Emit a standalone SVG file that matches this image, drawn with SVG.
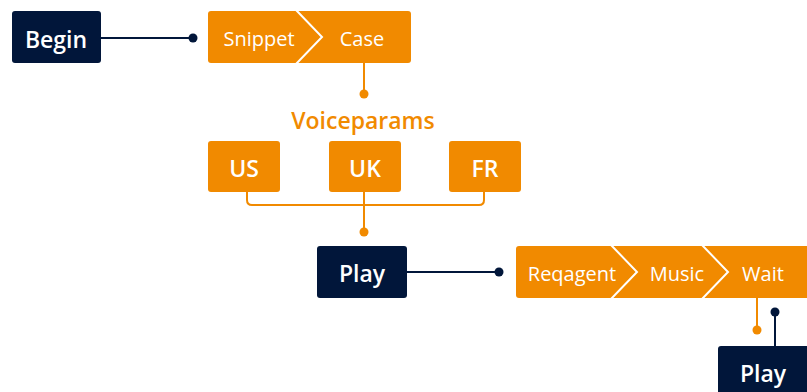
<svg xmlns="http://www.w3.org/2000/svg" width="807" height="392" viewBox="0 0 807 392">
<style>
.dark{fill:#01163a}
.or{fill:#f18a00}
.t{font-family:"Open Sans",sans-serif;fill:#fff;text-anchor:middle;dominant-baseline:central}
.b{font-weight:600;font-size:23px}
.n{font-size:20px}
.cd{stroke:#01163a;stroke-width:2;fill:none}
.co{stroke:#f18a00;stroke-width:2;fill:none}
.chev{stroke:#fff;stroke-width:2;fill:none}
</style>
<g id="connectors">
<line class="cd" x1="101" y1="38" x2="193" y2="38"/>
<circle cx="193" cy="38" r="4.5" class="dark"/>
<line class="co" x1="364" y1="63" x2="364" y2="94"/>
<circle cx="364" cy="94" r="4.5" class="or"/>
<path class="co" d="M247 192 V200 Q247 205 252 205 H479 Q484 205 484 200 V192"/>
<line class="co" x1="364" y1="192" x2="364" y2="232"/>
<circle cx="364" cy="232" r="4.5" class="or"/>
<line class="cd" x1="407" y1="272" x2="499" y2="272"/>
<circle cx="499" cy="272" r="4.5" class="dark"/>
<line class="co" x1="757" y1="298" x2="757" y2="330"/>
<circle cx="757" cy="330" r="4.5" class="or"/>
<line class="cd" x1="775" y1="312" x2="775" y2="346"/>
<circle cx="775" cy="312" r="4.5" class="dark"/>
</g>
<g id="begin">
<rect x="12" y="11" width="89" height="52" rx="3" class="dark"/>
<text x="56" y="38.5" class="t b">Begin</text>
</g>
<g id="snippet-case">
<rect x="208" y="11" width="203" height="52" rx="3" class="or"/>
<polyline class="chev" points="296,10 322,37 296,64"/>
<text x="259" y="38.5" class="t n">Snippet</text>
<text x="362" y="38.5" class="t n">Case</text>
</g>
<text id="voiceparams" x="363" y="120" style="font-family:'Open Sans',sans-serif;font-weight:600;font-size:23px;fill:#f18a00;text-anchor:middle;dominant-baseline:central">Voiceparams</text>
<g id="us">
<rect x="208" y="141" width="72" height="51" rx="3" class="or"/>
<text x="244" y="168" class="t b">US</text>
</g>
<g id="uk">
<rect x="329" y="141" width="72" height="51" rx="3" class="or"/>
<text x="365" y="168" class="t b">UK</text>
</g>
<g id="fr">
<rect x="449" y="141" width="72" height="51" rx="3" class="or"/>
<text x="485" y="168" class="t b">FR</text>
</g>
<g id="play1">
<rect x="317" y="246" width="90" height="52" rx="3" class="dark"/>
<text x="362" y="272.5" class="t b">Play</text>
</g>
<g id="reqagent-music-wait">
<rect x="516" y="246" width="294" height="52" rx="3" class="or"/>
<polyline class="chev" points="611,245 637,272 611,299"/>
<polyline class="chev" points="702,245 728,272 702,299"/>
<text x="572" y="273" class="t n">Reqagent</text>
<text x="677" y="273" class="t n">Music</text>
<text x="763" y="273" class="t n">Wait</text>
</g>
<g id="play2">
<rect x="718" y="346" width="92" height="52" rx="3" class="dark"/>
<text x="763" y="372.5" class="t b">Play</text>
</g>
</svg>
